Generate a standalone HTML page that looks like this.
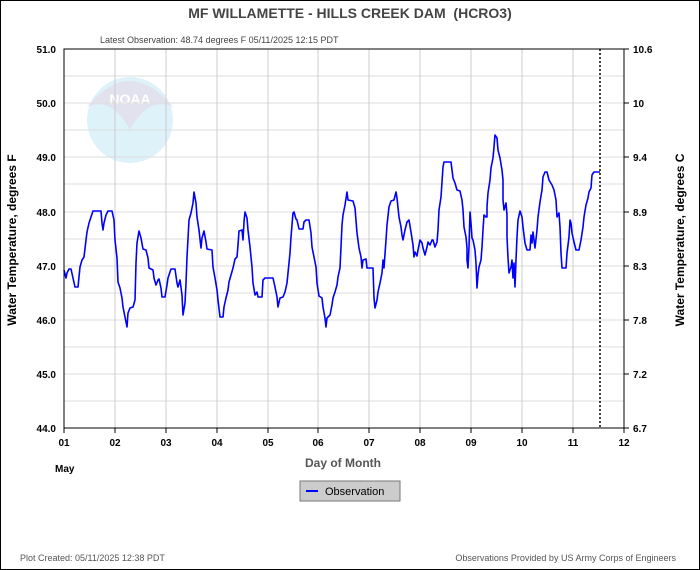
<!DOCTYPE html>
<html><head><meta charset="utf-8"><style>
body{margin:0;background:#fff;}
svg{display:block;font-family:"Liberation Sans",sans-serif;}
</style></head><body>
<svg width="700" height="570" viewBox="0 0 700 570">
<rect x="0.5" y="0.5" width="699" height="569" fill="#fff" stroke="#000"/>
<text x="350" y="18" text-anchor="middle" font-size="14" font-weight="bold" fill="#444" xml:space="preserve">MF WILLAMETTE - HILLS CREEK DAM  (HCRO3)</text>
<text x="100" y="43" font-size="9" fill="#444">Latest Observation: 48.74 degrees F 05/11/2025 12:15 PDT</text>
<rect x="64" y="49" width="560" height="379" fill="#fff"/>
<g>
<circle cx="130" cy="120" r="43" fill="#def2fa"/>
<path d="M87 107 Q130 55 173 107 Q148 96 130 130 Q112 96 87 107Z" fill="#e2e2ee"/>
<text x="130" y="104" text-anchor="middle" font-size="14" font-weight="bold" fill="#fff">NOAA</text>
</g>
<g stroke="#ddd" stroke-width="1">
<line x1="64" x2="624" y1="76" y2="76"/><line x1="64" x2="624" y1="103" y2="103"/><line x1="64" x2="624" y1="130" y2="130"/><line x1="64" x2="624" y1="157" y2="157"/><line x1="64" x2="624" y1="184" y2="184"/><line x1="64" x2="624" y1="212" y2="212"/><line x1="64" x2="624" y1="239" y2="239"/><line x1="64" x2="624" y1="266" y2="266"/><line x1="64" x2="624" y1="293" y2="293"/><line x1="64" x2="624" y1="320" y2="320"/><line x1="64" x2="624" y1="347" y2="347"/><line x1="64" x2="624" y1="374" y2="374"/><line x1="64" x2="624" y1="401" y2="401"/>
</g>
<g stroke="#ccc" stroke-width="1">
<line x1="115" x2="115" y1="49" y2="428"/><line x1="166" x2="166" y1="49" y2="428"/><line x1="217" x2="217" y1="49" y2="428"/><line x1="268" x2="268" y1="49" y2="428"/><line x1="318" x2="318" y1="49" y2="428"/><line x1="369" x2="369" y1="49" y2="428"/><line x1="420" x2="420" y1="49" y2="428"/><line x1="471" x2="471" y1="49" y2="428"/><line x1="522" x2="522" y1="49" y2="428"/><line x1="573" x2="573" y1="49" y2="428"/>
</g>
<line x1="600" x2="600" y1="49" y2="428" stroke="#000" stroke-width="1.5" stroke-dasharray="2,2"/>
<polyline fill="none" stroke="#0000ff" stroke-width="1.6" stroke-linejoin="round" points="64,270 66,278 67,273 69,269 71,269 73,278 75,287 78,287 80,267 82,260 84,257 86,240 87,232 89,223 91,217 93,211 101,211 102,223 103,230 104,223 106,215 108,211 112,211 114,220 115,240 117,258 118,282 120,288 122,298 123,307 125,317 127,327 128,313 130,308 133,307 135,300 136,263 137,243 139,231 141,238 143,249 146,250 148,258 149,268 153,270 154,278 156,285 158,280 159,279 161,288 162,297 165,297 167,285 168,278 171,269 175,269 177,283 178,287 180,280 182,295 183,315 185,303 186,283 187,257 189,220 191,213 193,203 194,192 196,203 197,217 199,230 201,248 202,238 204,231 206,242 207,249 212,250 213,267 215,278 217,290 218,300 220,317 223,317 224,307 226,298 228,290 229,282 231,275 233,268 235,259 237,257 238,245 239,231 242,230 243,240 244,222 245,212 247,218 248,230 250,247 252,267 253,283 255,295 257,292 258,297 262,297 263,280 265,278 273,278 275,287 277,297 278,307 280,298 283,297 285,292 287,283 288,273 290,253 291,237 293,213 294,212 296,219 297,220 299,229 303,229 304,222 306,220 309,220 311,233 312,247 314,257 316,267 317,283 319,296 322,298 323,307 325,318 326,327 327,318 330,315 332,305 333,298 335,292 337,285 338,277 340,268 341,247 342,225 343,215 345,205 347,192 348,200 353,201 355,208 357,233 359,248 361,257 362,268 363,260 366,259 367,268 373,268 374,298 375,308 377,300 378,292 380,283 382,273 383,260 384,268 386,240 387,225 389,207 391,201 394,200 396,192 397,198 399,217 401,227 402,235 403,240 405,230 407,222 409,220 411,232 413,245 414,257 415,252 417,256 418,250 420,240 422,243 423,248 425,255 427,247 428,242 430,245 432,240 433,240 435,247 437,242 438,230 439,210 441,197 442,182 443,167 444,162 451,162 452,170 453,178 455,183 457,190 460,191 462,200 463,210 464,227 466,237 467,248 467,260 468,268 469,247 470,212 471,223 472,238 473,240 475,250 476,263 477,288 478,275 479,267 481,260 482,247 483,230 484,215 486,217 487,217 487,207 488,193 490,180 491,168 493,158 494,147 495,135 497,138 498,150 500,158 502,170 503,180 503,200 504,210 506,203 507,215 507,237 508,258 509,273 511,267 512,260 513,278 514,263 515,287 516,260 517,237 518,220 520,211 522,217 523,227 525,243 527,250 530,250 531,235 532,243 533,232 535,248 537,230 538,217 540,202 542,190 543,177 545,172 547,172 549,180 552,185 554,190 556,200 557,217 559,213 560,227 561,253 562,268 566,268 567,253 569,237 570,220 571,223 572,233 574,242 576,250 579,250 581,240 583,227 584,217 586,205 588,198 589,192 591,188 592,175 594,172 600,172"/>
<rect x="64" y="49" width="560" height="379" fill="none" stroke="#000" stroke-width="1"/>
<g stroke="#000">
<line x1="64" x2="64" y1="428" y2="433"/><line x1="115" x2="115" y1="428" y2="433"/><line x1="166" x2="166" y1="428" y2="433"/><line x1="217" x2="217" y1="428" y2="433"/><line x1="268" x2="268" y1="428" y2="433"/><line x1="318" x2="318" y1="428" y2="433"/><line x1="369" x2="369" y1="428" y2="433"/><line x1="420" x2="420" y1="428" y2="433"/><line x1="471" x2="471" y1="428" y2="433"/><line x1="522" x2="522" y1="428" y2="433"/><line x1="573" x2="573" y1="428" y2="433"/><line x1="624" x2="624" y1="428" y2="433"/>
<line x1="624" x2="629" y1="49" y2="49"/><line x1="624" x2="629" y1="103" y2="103"/><line x1="624" x2="629" y1="157" y2="157"/><line x1="624" x2="629" y1="212" y2="212"/><line x1="624" x2="629" y1="266" y2="266"/><line x1="624" x2="629" y1="320" y2="320"/><line x1="624" x2="629" y1="374" y2="374"/><line x1="624" x2="629" y1="428" y2="428"/>
</g>
<g font-size="10" font-weight="bold" fill="#000" text-anchor="end">
<text x="56" y="53">51.0</text><text x="56" y="107">50.0</text><text x="56" y="161">49.0</text><text x="56" y="216">48.0</text><text x="56" y="270">47.0</text><text x="56" y="324">46.0</text><text x="56" y="378">45.0</text><text x="56" y="432">44.0</text>
</g>
<g font-size="10" font-weight="bold" fill="#000" text-anchor="start">
<text x="633" y="53">10.6</text><text x="633" y="107">10</text><text x="633" y="161">9.4</text><text x="633" y="216">8.9</text><text x="633" y="270">8.3</text><text x="633" y="324">7.8</text><text x="633" y="378">7.2</text><text x="633" y="432">6.7</text>
</g>
<g font-size="10" font-weight="bold" fill="#000" text-anchor="middle">
<text x="64" y="446">01</text><text x="115" y="446">02</text><text x="166" y="446">03</text><text x="217" y="446">04</text><text x="268" y="446">05</text><text x="318" y="446">06</text><text x="369" y="446">07</text><text x="420" y="446">08</text><text x="471" y="446">09</text><text x="522" y="446">10</text><text x="573" y="446">11</text><text x="624" y="446">12</text>
</g>
<text x="55" y="472" font-size="10" font-weight="bold" fill="#000">May</text>
<text x="343" y="467" text-anchor="middle" font-size="12" font-weight="bold" fill="#555">Day of Month</text>
<text transform="translate(16,240) rotate(-90)" text-anchor="middle" font-size="12" font-weight="bold" fill="#000">Water Temperature, degrees F</text>
<text transform="translate(684,240) rotate(-90)" text-anchor="middle" font-size="12" font-weight="bold" fill="#000">Water Temperature, degrees C</text>
<rect x="300" y="481" width="100" height="20" fill="#ccc" stroke="#777"/>
<line x1="306" x2="318" y1="491" y2="491" stroke="#0000ff" stroke-width="2"/>
<text x="325" y="495" font-size="11" fill="#000">Observation</text>
<text x="20" y="561" font-size="9" fill="#555">Plot Created: 05/11/2025 12:38 PDT</text>
<text x="676" y="561" text-anchor="end" font-size="9" fill="#555">Observations Provided by US Army Corps of Engineers</text>
</svg>
</body></html>
